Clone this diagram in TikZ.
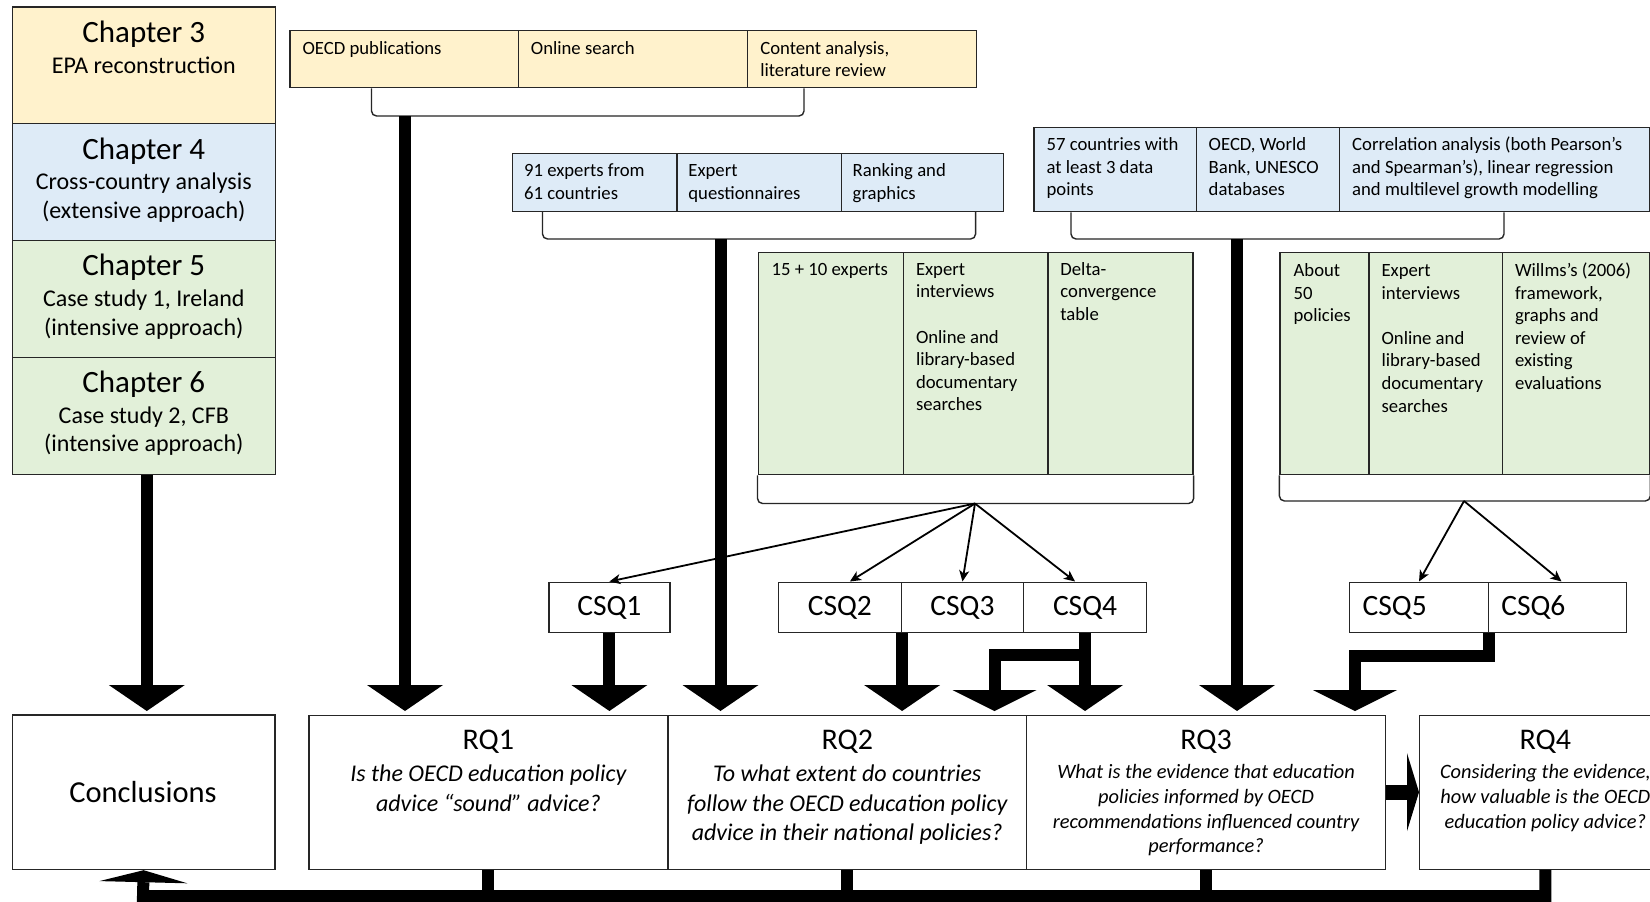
\documentclass[tikz,border=0pt]{standalone}
\usepackage{fontspec}
\setmainfont{Carlito}
\usetikzlibrary{arrows.meta,calc}
\newcommand{\fsz}[2]{\fontsize{#1pt}{#2pt}\selectfont}
\definecolor{yel}{HTML}{FFF2CC}
\definecolor{blu}{HTML}{DEEBF7}
\definecolor{grn}{HTML}{E2F0D9}
\definecolor{edge}{HTML}{262626}
\begin{document}
\begin{tikzpicture}[x=1pt,y=-1pt,
  cell/.style={draw=edge, line width=1.3pt, rectangle, inner sep=0pt, anchor=north west},
  ctext/.style={font=\fsz{18.7}{22.6}, align=left, anchor=north west, inner sep=0pt},
  headtext/.style={font=\fsz{31}{36}, anchor=base, inner sep=0pt},
  subtext/.style={font=\fsz{24}{28.5}, align=center, anchor=north, inner sep=0pt},
  rqhead/.style={font=\fsz{30}{36}, anchor=base, inner sep=0pt},
  rqbig/.style={font=\itshape\fsz{24}{29.3}, align=center, anchor=north, inner sep=0pt},
  rqsmall/.style={font=\itshape\fsz{20.4}{24.8}, align=center, anchor=north, inner sep=0pt},
  csqbox/.style={cell, font=\fsz{29.5}{34}, minimum height=50.5pt},
  bracket/.style={draw=edge, line width=1.4pt, rounded corners=5pt},
  thinarrow/.style={line width=1.8pt, -{Stealth[length=11pt, width=10pt, inset=3pt]}},
  fat/.style={line width=12pt, -{Triangle[length=26pt, width=76pt, line width=0pt]}},
  fatelbow/.style={line width=12pt, line join=miter, -{Triangle[length=21pt, width=84pt, line width=0pt]}},
  fatback/.style={line width=12pt, line join=miter, -{Triangle[length=12pt, width=88pt, line width=0pt]}},
  fatstub/.style={line width=12pt},
  fatside/.style={line width=15pt, -{Triangle[length=12pt, width=78pt, line width=0pt]}}
]
\useasboundingbox (0,0) rectangle (1650,902);
\fill[white] (0,0) rectangle (1650,902);
\clip (0,0) rectangle (1650,902);

% ---------- chapter column ----------
\node[cell, fill=yel, minimum width=263.1pt, minimum height=116.8pt] (ch3) at (11.6,6.3) {};
\node[cell, fill=blu, minimum width=263.1pt, minimum height=116.8pt] (ch4) at (11.6,123.1) {};
\node[cell, fill=grn, minimum width=263.1pt, minimum height=116.8pt] (ch5) at (11.6,239.9) {};
\node[cell, fill=grn, minimum width=263.1pt, minimum height=116.8pt] (ch6) at (11.6,356.7) {};
\node[headtext] (ch3h) at ($(ch3.north)+(0,36)$) {Chapter 3};
\node[subtext] (ch3s) at ($(ch3.north)+(0,46.6)$) {\strut EPA reconstruction};
\node[headtext] (ch4h) at ($(ch4.north)+(0,36)$) {Chapter 4};
\node[subtext] (ch4s) at ($(ch4.north)+(0,46.6)$) {\strut Cross-country analysis\\(extensive approach)};
\node[headtext] (ch5h) at ($(ch5.north)+(0,36)$) {Chapter 5};
\node[subtext] (ch5s) at ($(ch5.north)+(0,46.6)$) {\strut Case study 1, Ireland\\(intensive approach)};
\node[headtext] (ch6h) at ($(ch6.north)+(0,36)$) {Chapter 6};
\node[subtext] (ch6s) at ($(ch6.north)+(0,46.6)$) {\strut Case study 2, CFB\\(intensive approach)};

% ---------- OECD publications table ----------
\node[cell, fill=yel, minimum width=228.3pt, minimum height=57.5pt] (o1) at (289.4,29.5) {};
\node[cell, fill=yel, minimum width=229.4pt, minimum height=57.5pt] (o2) at (517.7,29.5) {};
\node[cell, fill=yel, minimum width=228.4pt, minimum height=57.5pt] (o3) at (747.1,29.5) {};
\node[ctext] (o1t) at ($(o1.north west)+(13,8.7)$) {\strut OECD publications};
\node[ctext] (o2t) at ($(o2.north west)+(13,8.7)$) {\strut Online search};
\node[ctext] (o3t) at ($(o3.north west)+(13,8.7)$) {\strut Content analysis,\\literature review};
\coordinate (ob1) at (371.5,116);
\coordinate (ob2) at (804,116);
\coordinate (obs) at (405,116);
\draw[bracket] (ob1 |- o1.south) -- (ob1) -- (ob2) -- (ob2 |- o1.south);

% ---------- questionnaire table ----------
\node[cell, fill=blu, minimum width=164.3pt, minimum height=58pt] (q1) at (511.9,152.7) {};
\node[cell, fill=blu, minimum width=164.3pt, minimum height=58pt] (q2) at (676.2,152.7) {};
\node[cell, fill=blu, minimum width=162.3pt, minimum height=58pt] (q3) at (840.5,152.7) {};
\node[ctext] (q1t) at ($(q1.north west)+(12,8.2)$) {\strut 91 experts from\\61 countries};
\node[ctext] (q2t) at ($(q2.north west)+(12,8.2)$) {\strut Expert\\questionnaires};
\node[ctext] (q3t) at ($(q3.north west)+(12,8.2)$) {\strut Ranking and\\graphics};
\coordinate (qb1) at (542.5,239);
\coordinate (qb2) at (975.6,239);
\coordinate (qbs) at (720.5,239);
\draw[bracket] (qb1 |- q1.south) -- (qb1) -- (qb2) -- (qb2 |- q1.south);

% ---------- database table ----------
\node[cell, fill=blu, minimum width=162.1pt, minimum height=84.5pt] (d1) at (1033.4,126.5) {};
\node[cell, fill=blu, minimum width=143.5pt, minimum height=84.5pt] (d2) at (1195.5,126.5) {};
\node[cell, fill=blu, minimum width=310pt, minimum height=84.5pt] (d3) at (1339,126.5) {};
\node[ctext] (d1t) at ($(d1.north west)+(13,8.2)$) {\strut 57 countries with\\at least 3 data\\points};
\node[ctext] (d2t) at ($(d2.north west)+(13,8.2)$) {\strut OECD, World\\Bank, UNESCO\\databases};
\node[ctext] (d3t) at ($(d3.north west)+(13,8.2)$) {\strut Correlation analysis (both Pearson’s\\and Spearman’s), linear regression\\and multilevel growth modelling};
\coordinate (db1) at (1071,239);
\coordinate (db2) at (1504,239);
\coordinate (dbs) at (1237,239);
\draw[bracket] (db1 |- d1.south) -- (db1) -- (db2) -- (db2 |- d1.south);

% ---------- Ireland case study table ----------
\node[cell, fill=grn, minimum width=145.3pt, minimum height=222pt] (i1) at (757.5,252) {};
\node[cell, fill=grn, minimum width=144.4pt, minimum height=222pt] (i2) at (902.8,252) {};
\node[cell, fill=grn, minimum width=145.1pt, minimum height=222pt] (i3) at (1047.2,252) {};
\node[ctext] (i1t) at ($(i1.north west)+(14,7.2)$) {\strut 15 + 10 experts};
\node[ctext] (i2t) at ($(i2.north west)+(13,7.2)$) {\strut Expert\\interviews\\[22.6pt]Online and\\library-based\\documentary\\searches};
\node[ctext] (i3t) at ($(i3.north west)+(13,7.2)$) {\strut Delta-\\convergence\\table};
\coordinate (ib) at (975,503.5);
\draw[bracket] (i1.south west) -- (i1.south west |- ib) -- (i3.south east |- ib) -- (i3.south east);

% ---------- CFB case study table ----------
\node[cell, fill=grn, minimum width=89pt, minimum height=222pt] (c1) at (1279.4,252) {};
\node[cell, fill=grn, minimum width=133.4pt, minimum height=222pt] (c2) at (1368.4,252) {};
\node[cell, fill=grn, minimum width=147.2pt, minimum height=222pt] (c3) at (1501.8,252) {};
\node[ctext] (c1t) at ($(c1.north west)+(14,8.4)$) {\strut About\\50\\policies};
\node[ctext] (c2t) at ($(c2.north west)+(13,8.4)$) {\strut Expert\\interviews\\[22.6pt]Online and\\library-based\\documentary\\searches};
\node[ctext] (c3t) at ($(c3.north west)+(13,8.4)$) {\strut Willms’s (2006)\\framework,\\graphs and\\review of\\existing\\evaluations};
\coordinate (cb) at (1464,501);
\draw[bracket] (c1.south west) -- (c1.south west |- cb) -- (c3.south east |- cb) -- (c3.south east);

% ---------- CSQ boxes ----------
\node[csqbox, minimum width=121.1pt] (csq1) at (548.2,581.5) {CSQ1};
\node[csqbox, minimum width=123.1pt] (csq2) at (777.7,581.5) {CSQ2};
\node[csqbox, minimum width=122pt] (csq3) at (900.8,581.5) {CSQ3};
\node[csqbox, minimum width=123.2pt] (csq4) at (1022.8,581.5) {CSQ4};
\node[csqbox, minimum width=138.7pt, text width=112.7pt, inner xsep=13pt, align=left] (csq5) at (1349,581.5) {CSQ5};
\node[csqbox, minimum width=138.3pt, text width=112.3pt, inner xsep=13pt, align=left] (csq6) at (1487.7,581.5) {CSQ6};

% ---------- thin fan-out arrows ----------
\draw[thinarrow] (ib) -- (csq1.north);
\draw[thinarrow] (ib) -- ($(csq2.north)+(10,0)$);
\draw[thinarrow] (ib) -- (csq3.north);
\draw[thinarrow] (ib) -- ($(csq4.north)+(-10,0)$);
\draw[thinarrow] (cb) -- (csq5.north);
\draw[thinarrow] (cb) -- ($(csq6.north)+(4,0)$);

% ---------- bottom row ----------
\node[cell, minimum width=262.6pt, minimum height=154.5pt] (concl) at (11.7,714.4) {};
\node[inner sep=0pt, anchor=base, font=\fsz{30.5}{36}] (conclt) at (143,802.5) {Conclusions};

\node[cell, minimum width=358.9pt, minimum height=154pt] (rq1) at (308.3,714.5) {};
\node[cell, minimum width=358.8pt, minimum height=154pt] (rq2) at (667.2,714.5) {};
\node[cell, minimum width=358.8pt, minimum height=154pt] (rq3) at (1026,714.5) {};
\node[cell, minimum width=251.4pt, minimum height=154pt] (rq4) at (1419,714.5) {};

\node[rqhead] (rq1h) at ($(rq1.north)+(0,35)$) {RQ1};
\node[rqhead] (rq2h) at ($(rq2.north)+(0,35)$) {RQ2};
\node[rqhead] (rq3h) at ($(rq3.north)+(0,35)$) {RQ3};
\node[rqhead] (rq4h) at ($(rq4.north)+(0,35)$) {RQ4};
\node[rqbig] (rq1t) at ($(rq1.north)+(0,46.5)$) {\strut Is the OECD education policy\\advice “sound” advice?};
\node[rqbig] (rq2t) at ($(rq2.north)+(0,46.5)$) {\strut To what extent do countries\\follow the OECD education policy\\advice in their national policies?};
\node[rqsmall] (rq3t) at ($(rq3.north)+(0,46.5)$) {\strut What is the evidence that education\\policies informed by OECD\\recommendations influenced country\\performance?};
\node[rqsmall] (rq4t) at ($(rq4.north)+(0,46.5)$) {\strut Considering the evidence,\\how valuable is the OECD\\education policy advice?};

% ---------- thick arrows ----------
\coordinate (tipy) at (0,711);
\coordinate (el1) at (994.5,654.5);
\coordinate (el2) at (1355,656);
\coordinate (bl) at (143,896);
\coordinate (c6s) at ($(ch6.south)+(3,0)$);

\draw[fat] (c6s) -- (c6s |- tipy);
\draw[fat] (obs) -- (obs |- tipy);
\draw[fat] (csq1.south) -- (csq1.south |- tipy);
\draw[fat] (qbs) -- (qbs |- tipy);
\draw[fat] (csq2.south east) -- (csq2.south east |- tipy);
\draw[fat] (csq4.south) -- (csq4.south |- tipy);
\draw[fatelbow] (csq4.south) |- (el1) -- (el1 |- tipy);
\draw[fat] (dbs) -- (dbs |- tipy);
\draw[fatelbow] (csq5.south east) |- (el2) -- (el2 |- tipy);

\draw[fatside] (rq3.east) -- (rq4.west);

\draw[fatstub] (rq1.south) -- (rq1.south |- bl);
\draw[fatstub] (rq2.south) -- (rq2.south |- bl);
\draw[fatstub] (rq3.south) -- (rq3.south |- bl);
\draw[fatback] (rq4.south) -- (rq4.south |- bl) -- (bl) -- (concl.south);
\end{tikzpicture}
\end{document}
